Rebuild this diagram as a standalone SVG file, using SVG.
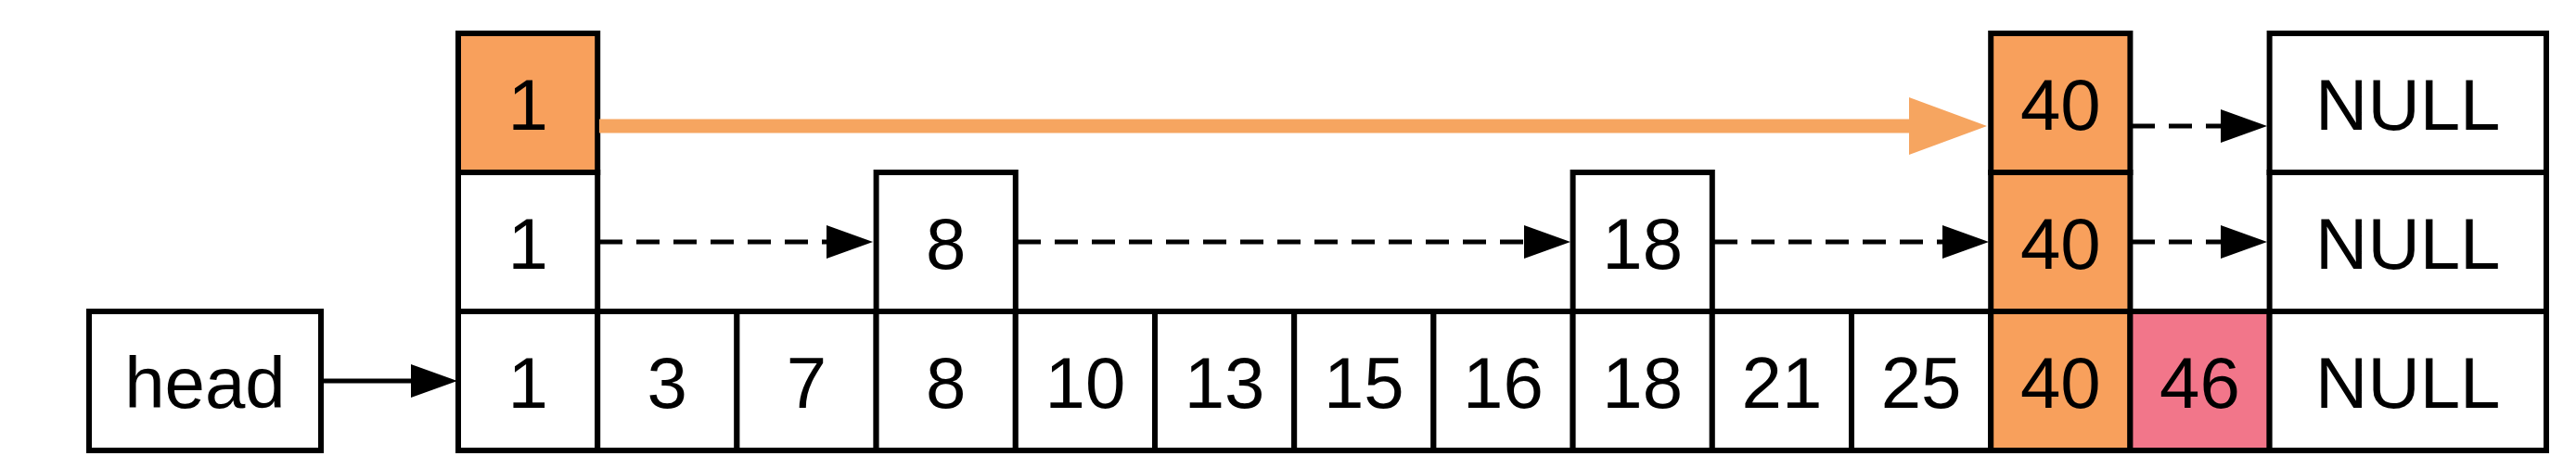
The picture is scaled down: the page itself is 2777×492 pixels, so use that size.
<svg xmlns="http://www.w3.org/2000/svg" width="2777" height="492" viewBox="0 0 2777 492">
<style>
.c{fill:#ffffff;stroke:#000;stroke-width:6}
.o{fill:#F8A05C;stroke:#000;stroke-width:6}
.p{fill:#F2768A;stroke:#000;stroke-width:6}
text{font-family:"Liberation Sans",Arial,Helvetica,sans-serif;font-size:78px;fill:#000;text-anchor:middle}
.d{stroke:#000;stroke-width:5;stroke-dasharray:25 15;fill:none}
.s{stroke:#000;stroke-width:5;fill:none}
.oa{stroke:#F6A560;stroke-width:15;fill:none}
</style>
<defs>
<marker id="ah" markerUnits="userSpaceOnUse" markerWidth="50" markerHeight="36" refX="0" refY="18" orient="auto"><path d="M0,0 L50,18 L0,36 z" fill="#000"/></marker>
<marker id="oh" markerUnits="userSpaceOnUse" markerWidth="84" markerHeight="62" refX="0" refY="31" orient="auto"><path d="M0,0 L84,31 L0,62 z" fill="#F6A560"/></marker>
</defs>
<rect width="2777" height="492" fill="#ffffff"/>
<g id="head"><rect class="c" x="96" y="336" width="250" height="150"/><text x="221" y="440">head</text></g>
<g id="n1-l0"><rect class="c" x="494" y="336" width="150.2" height="150"/><text x="569.1" y="440">1</text></g>
<g id="n3-l0"><rect class="c" x="644.2" y="336" width="150.2" height="150"/><text x="719.3" y="440">3</text></g>
<g id="n7-l0"><rect class="c" x="794.4" y="336" width="150.2" height="150"/><text x="869.5" y="440">7</text></g>
<g id="n8-l0"><rect class="c" x="944.6" y="336" width="150.2" height="150"/><text x="1019.7" y="440">8</text></g>
<g id="n10-l0"><rect class="c" x="1094.8" y="336" width="150.2" height="150"/><text x="1169.9" y="440">10</text></g>
<g id="n13-l0"><rect class="c" x="1245" y="336" width="150.2" height="150"/><text x="1320.1" y="440">13</text></g>
<g id="n15-l0"><rect class="c" x="1395.2" y="336" width="150.2" height="150"/><text x="1470.3" y="440">15</text></g>
<g id="n16-l0"><rect class="c" x="1545.4" y="336" width="150.2" height="150"/><text x="1620.5" y="440">16</text></g>
<g id="n18-l0"><rect class="c" x="1695.6" y="336" width="150.2" height="150"/><text x="1770.7" y="440">18</text></g>
<g id="n21-l0"><rect class="c" x="1845.8" y="336" width="150.2" height="150"/><text x="1920.9" y="440">21</text></g>
<g id="n25-l0"><rect class="c" x="1996" y="336" width="150.2" height="150"/><text x="2071.1" y="440">25</text></g>
<g id="n40-l0"><rect class="o" x="2146.2" y="336" width="150.2" height="150"/><text x="2221.3" y="440">40</text></g>
<g id="n46-l0"><rect class="p" x="2296.4" y="336" width="150.2" height="150"/><text x="2371.5" y="440">46</text></g>
<g id="null-l0"><rect class="c" x="2446.6" y="336" width="298.4" height="150"/><text x="2595.8" y="440">NULL</text></g>
<g id="n1-l1"><rect class="c" x="494" y="186" width="150.2" height="150"/><text x="569.1" y="290">1</text></g>
<g id="n8-l1"><rect class="c" x="944.6" y="186" width="150.2" height="150"/><text x="1019.7" y="290">8</text></g>
<g id="n18-l1"><rect class="c" x="1695.6" y="186" width="150.2" height="150"/><text x="1770.7" y="290">18</text></g>
<g id="n40-l1"><rect class="o" x="2146.2" y="186" width="150.2" height="150"/><text x="2221.3" y="290">40</text></g>
<g id="null-l1"><rect class="c" x="2446.6" y="186" width="298.4" height="150"/><text x="2595.8" y="290">NULL</text></g>
<g id="n1-l2"><rect class="o" x="494" y="36" width="150.2" height="150"/><text x="569.1" y="140">1</text></g>
<g id="n40-l2"><rect class="o" x="2146.2" y="36" width="150.2" height="150"/><text x="2221.3" y="140">40</text></g>
<g id="null-l2"><rect class="c" x="2446.6" y="36" width="298.4" height="150"/><text x="2595.8" y="140">NULL</text></g>
<g id="connectors">
<line class="s" x1="346" y1="411" x2="443" y2="411" marker-end="url(#ah)"/>
<line class="d" x1="646" y1="261" x2="891" y2="261" marker-end="url(#ah)"/>
<line class="d" x1="1097" y1="261" x2="1643" y2="261" marker-end="url(#ah)"/>
<line class="d" x1="1848" y1="261" x2="2094" y2="261" marker-end="url(#ah)"/>
<line class="d" x1="2298" y1="261" x2="2394" y2="261" marker-end="url(#ah)"/>
<line class="d" x1="2298" y1="136" x2="2394" y2="136" marker-end="url(#ah)"/>
<line class="oa" x1="646" y1="136" x2="2058" y2="136" marker-end="url(#oh)"/>
</g>
</svg>
